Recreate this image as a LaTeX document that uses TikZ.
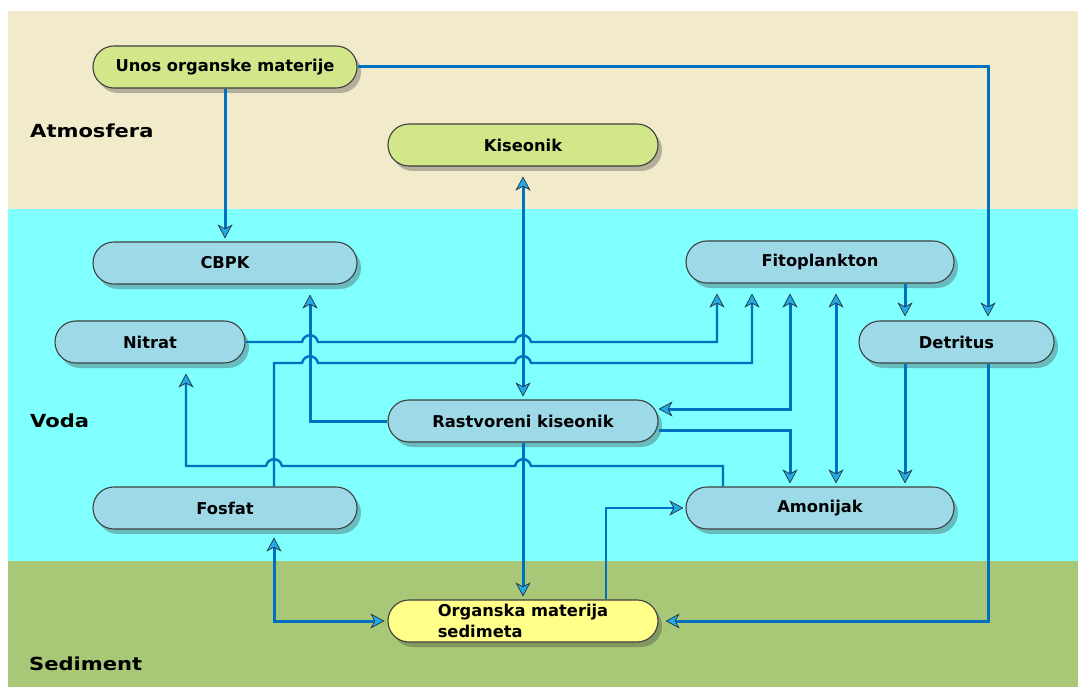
\documentclass[tikz,border=0pt]{standalone}
\usepackage{fontspec}
\usetikzlibrary{arrows.meta,shadows}
\newfontfamily\nodefont{DejaVu Sans}
\newfontfamily\labfont[FakeStretch=1.17]{DejaVu Sans}
\definecolor{bgbeige}{HTML}{F2EBCB}
\definecolor{bgwater}{HTML}{80FFFF}
\definecolor{bgsed}{HTML}{A8C877}
\definecolor{ngreen}{HTML}{D2E68A}
\definecolor{nblue}{HTML}{9ED9E8}
\definecolor{nyellow}{HTML}{FFFF8A}
\definecolor{lblue}{HTML}{0070C0}
\definecolor{tipfill}{HTML}{22AAE6}
\definecolor{tipline}{HTML}{26343E}
\begin{document}
\begin{tikzpicture}[x=1pt,y=-1pt,
  pill/.style={draw=black!75, line width=1.1pt, rounded corners=20.9pt, minimum height=42pt, inner sep=0pt, text=black,
    font=\nodefont\bfseries\fontsize{16.3}{20.5}\selectfont,
    drop shadow={shadow xshift=4pt, shadow yshift=-5pt, opacity=0.32, fill=black!80}},
  conn/.style={draw=lblue, line width=3pt},
  thinconn/.style={draw=lblue, line width=2.4pt},
  layer/.style={font=\labfont\bfseries\fontsize{18}{20}\selectfont, anchor=base west, inner sep=0pt},
  >={Stealth[length=14pt,width=15pt,inset=4pt,fill=tipfill,color=tipline,line width=0.7pt]},
  hopr/.style args={#1/#2}{insert path={-- (#1-8,#2) .. controls (#1-6,#2-9) and (#1+6,#2-9) .. (#1+8,#2)}},
  hopl/.style args={#1/#2}{insert path={-- (#1+8,#2) .. controls (#1+6,#2-9) and (#1-6,#2-9) .. (#1-8,#2)}}
]
\useasboundingbox (0,0) rectangle (1078,687);
\fill[white] (0,0) rectangle (1078,687);
\fill[bgbeige] (7.5,11) rectangle (1078,209);
\fill[bgwater] (7.5,209) rectangle (1078,561);
\fill[bgsed] (7.5,561) rectangle (1078,687);

\node[layer] (atm) at (30,138) {Atmosfera};
\node[layer] (voda) at (30,427) {Voda};
\node[layer] (sed) at (29,670) {Sediment};

\node[pill,fill=ngreen,minimum width=264pt] (unos) at (225,67) {Unos organske materije};
\node[pill,fill=ngreen,minimum width=270pt] (kis) at (523,145) {Kiseonik};
\node[pill,fill=nblue,minimum width=264pt] (cbpk) at (225,263) {CBPK};
\node[pill,fill=nblue,minimum width=190pt] (nit) at (150,342) {Nitrat};
\node[pill,fill=nblue,minimum width=268pt] (fit) at (820,262) {Fitoplankton};
\node[pill,fill=nblue,minimum width=195pt] (det) at (956.5,342) {Detritus};
\node[pill,fill=nblue,minimum width=270pt] (ras) at (523,421) {Rastvoreni kiseonik};
\node[pill,fill=nblue,minimum width=264pt] (fos) at (225,508) {Fosfat};
\node[pill,fill=nblue,minimum width=268pt] (amo) at (820,508) {Amonijak};
\node[pill,fill=nyellow,minimum width=270pt,align=left] (org) at (523,621) {Organska materija\\sedimeta};

\draw[conn,->,shorten >=3pt] (unos.south) -- (cbpk.north);
\draw[conn,->,shorten >=4pt] (unos.east) -- (988,67) -- (988,0 |- det.north);
\draw[conn,<->,shorten <=3pt,shorten >=10pt] (ras.north) -- (kis.south);
\draw[conn,->,shorten >=10pt] (ras.west) -- (310,421) -- (310,0 |- cbpk.south);
\draw[thinconn,->,shorten >=10pt] (nit.east) [hopr=310/342] [hopr=523/342] -- (717,342) -- (717,0 |- fit.south);
\draw[thinconn,->,shorten >=10pt] (274,0 |- fos.north) -- (274,363) [hopr=310/363] [hopr=523/363] -- (752,363) -- (752,0 |- fit.south);
\draw[conn,->,shorten >=3pt] (ras.south) -- (org.north);
\draw[thinconn,->,shorten >=10pt] (723,0 |- amo.north) -- (723,466) [hopl=523/466] [hopl=274/466] -- (186,466) -- (186,0 |- nit.south);
\draw[conn,<->,shorten <=10pt] (790,0 |- fit.south) -- (790,409) -- (ras.east |- 0,409);
\draw[conn,->,shorten >=3pt] (ras.east |- 0,430) -- (790,430) -- (790,0 |- amo.north);
\draw[conn,<->,shorten <=10pt,shorten >=3pt] (836,0 |- fit.south) -- (836,0 |- amo.north);
\draw[conn,->,shorten >=4pt] (905,0 |- fit.south) -- (905,0 |- det.north);
\draw[conn,->,shorten >=3pt] (905,0 |- det.south) -- (905,0 |- amo.north);
\draw[conn,->,shorten >=7pt] (988,0 |- det.south) -- (988,621) -- (org.east);
\draw[conn,<->,shorten <=8pt,shorten >=3pt] (274,0 |- fos.south) -- (274,621) -- (org.west);
\draw[thinconn,->,shorten >=2pt] (606,0 |- org.north) -- (606,508) -- (amo.west);
\end{tikzpicture}
\end{document}
